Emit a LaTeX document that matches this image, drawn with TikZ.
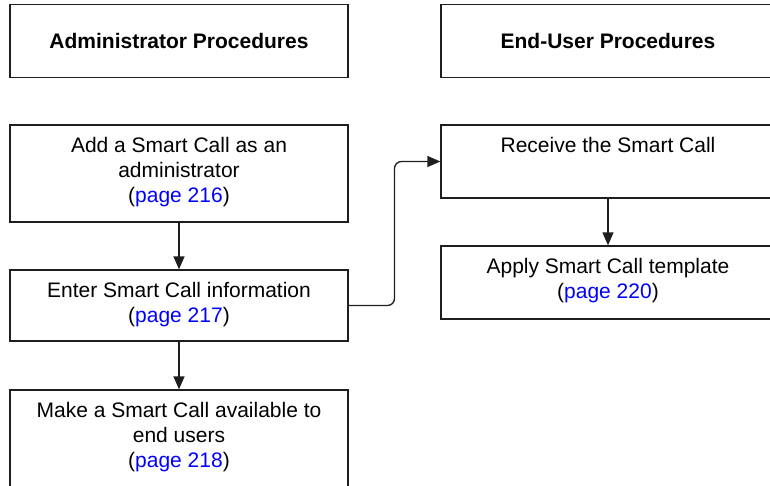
\documentclass[tikz,border=0pt]{standalone}
\usepackage{fontspec}
\setmainfont{Liberation Sans}
\usetikzlibrary{arrows.meta,calc}
\definecolor{edge}{HTML}{1E1E1E}
\definecolor{linkblue}{HTML}{0000FF}
\newcommand{\pagelink}[1]{(\textcolor{linkblue}{page #1})}
\begin{document}
\begin{tikzpicture}[x=1pt,y=-1pt,
  procbox/.style={draw=edge,line width=1.3pt,rectangle,inner sep=0pt},
  leftcol/.style={procbox,minimum width=338pt},
  rightcol/.style={procbox,minimum width=334pt},
  heading/.style={font=\fontsize{21}{25}\selectfont\bfseries},
  boxtext/.style={anchor=north,inner sep=0pt,align=center,
    font=\fontsize{21}{25}\selectfont},
  conn/.style={draw=edge,line width=1.3pt,
    -{Triangle[width=11pt,length=13pt]}}]
  \useasboundingbox (0,0) rectangle (770,485);
  \clip (0,0) rectangle (770,485);

  % column headings
  \node[leftcol,minimum height=73pt] (admin) at (179,41) {};
  \node[heading] (admintitle) at (admin.center) {Administrator Procedures};
  \node[rightcol,minimum height=73pt] (enduser) at (608,41) {};
  \node[heading] (endusertitle) at (enduser.center) {End-User Procedures};

  % administrator steps
  \node[leftcol,minimum height=97pt] (add) at (179,173.5) {};
  \node[boxtext] (addtext) at ([yshift=-12.7pt]add.north)
    {Add a Smart Call as an\\administrator\\\pagelink{216}};
  \node[leftcol,minimum height=71pt] (enter) at (179,305.5) {};
  \node[boxtext] (entertext) at ([yshift=-12.7pt]enter.north)
    {Enter Smart Call information\\\pagelink{217}};
  \node[leftcol,minimum height=97pt] (make) at (179,438.5) {};
  \node[boxtext] (maketext) at ([yshift=-12.7pt]make.north)
    {Make a Smart Call available to\\end users\\\pagelink{218}};

  % end-user steps
  \node[rightcol,minimum height=73pt] (receive) at (608,161.5) {};
  \node[boxtext] (receivetext) at ([yshift=-12.7pt]receive.north)
    {Receive the Smart Call};
  \node[rightcol,minimum height=73pt] (apply) at (608,282.5) {};
  \node[boxtext] (applytext) at ([yshift=-12.7pt]apply.north)
    {Apply Smart Call template\\\pagelink{220}};

  % connectors
  \draw[conn] (add.south) -- (enter.north);
  \draw[conn] (enter.south) -- (make.north);
  \draw[conn] (receive.south) -- (apply.north);
  \coordinate (mid) at ($(enter.east)!0.5!(receive.west)$);
  \draw[conn,rounded corners=7pt] (enter.east) -- (enter.east -| mid)
    -- (receive.west -| mid) -- (receive.west);
\end{tikzpicture}
\end{document}
